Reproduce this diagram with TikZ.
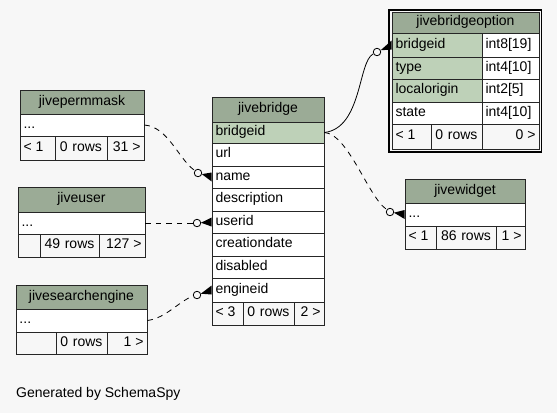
\documentclass[tikz,border=0pt]{standalone}
\usepackage{fontspec}
\setmainfont{Liberation Sans}
\usetikzlibrary{calc}
\definecolor{bgc}{HTML}{F7F7F7}
\definecolor{headc}{HTML}{9BAB96}
\definecolor{pkc}{HTML}{BED1B8}
\newcommand{\cellbox}[8]{%
  \pgfmathsetmacro\cw{#4-#2}%
  \pgfmathsetmacro\ch{#5-#3}%
  \pgfmathsetmacro\tw{#4-#2-7}%
  \node[cellst, fill=#6, minimum width=\cw pt, minimum height=\ch pt, text width=\tw pt, align=#7] (#1) at ({(#2+#4)/2},{(#3+#5)/2}) {#8};%
}
\newcommand{\crowfoot}[2]{%
  \fill[black] ($(#1)!4pt!(#2)$) -- ($(#2)+(0,-4.5)$) -- ($(#2)+(0,4.5)$) -- cycle;%
}
\begin{document}
\begin{tikzpicture}[x=1pt,y=-1pt,
  cellst/.style={draw=black!85, line width=0.8pt, inner xsep=3.5pt, inner ysep=0pt,
    text height=9.5pt, text depth=3.5pt, font=\fontsize{14}{16}\selectfont},
  fkcirc/.style={circle, draw=black, line width=0.8pt, fill=bgc, minimum size=7.5pt, inner sep=0pt},
  conn/.style={line width=0.8pt, black},
  dconn/.style={conn, dash pattern=on 5.5pt off 5pt}]
\fill[bgc] (0,0) rectangle (557,413);
\useasboundingbox (0,0) rectangle (557,413);

% jivepermmask
\cellbox{pm_h}{20}{90}{144}{114}{headc}{center}{jivepermmask}
\cellbox{pm_r}{20}{114}{144}{136}{white}{flush left}{...}
\cellbox{pm_f1}{20}{136}{55}{160}{bgc}{flush left}{< 1}
\cellbox{pm_f2}{55}{136}{107}{160}{bgc}{center}{0 rows}
\cellbox{pm_f3}{107}{136}{144}{160}{bgc}{flush right}{31 >}

% jiveuser
\cellbox{ju_h}{18}{187}{145}{212}{headc}{center}{jiveuser}
\cellbox{ju_r}{18}{212}{145}{234}{white}{flush left}{...}
\cellbox{ju_f1}{18}{234}{40}{257}{bgc}{flush left}{}
\cellbox{ju_f2}{40}{234}{99}{257}{bgc}{center}{49 rows}
\cellbox{ju_f3}{99}{234}{145}{257}{bgc}{flush right}{127 >}

% jivesearchengine
\cellbox{se_h}{16}{285}{147}{309}{headc}{center}{jivesearchengine}
\cellbox{se_r}{16}{309}{147}{332}{white}{flush left}{...}
\cellbox{se_f1}{16}{332}{56}{354}{bgc}{flush left}{}
\cellbox{se_f2}{56}{332}{107}{354}{bgc}{center}{0 rows}
\cellbox{se_f3}{107}{332}{147}{354}{bgc}{flush right}{1 >}

% jivebridge
\cellbox{bj_h}{212}{97}{324}{122}{headc}{center}{jivebridge}
\cellbox{bj_bridgeid}{212}{122}{324}{143}{pkc}{flush left}{bridgeid}
\cellbox{bj_url}{212}{143}{324}{166}{white}{flush left}{url}
\cellbox{bj_name}{212}{166}{324}{188}{white}{flush left}{name}
\cellbox{bj_desc}{212}{188}{324}{211}{white}{flush left}{description}
\cellbox{bj_userid}{212}{211}{324}{233}{white}{flush left}{userid}
\cellbox{bj_cdate}{212}{233}{324}{256}{white}{flush left}{creationdate}
\cellbox{bj_dis}{212}{256}{324}{278}{white}{flush left}{disabled}
\cellbox{bj_engineid}{212}{278}{324}{302}{white}{flush left}{engineid}
\cellbox{bj_f1}{212}{302}{243}{325}{bgc}{flush left}{< 3}
\cellbox{bj_f2}{243}{302}{294}{325}{bgc}{center}{0 rows}
\cellbox{bj_f3}{294}{302}{324}{325}{bgc}{flush right}{2 >}

% jivebridgeoption
\draw[line width=1.2pt, black] (389,10) rectangle (541.5,152);
\cellbox{bo_h}{392}{12}{539}{33}{headc}{center}{jivebridgeoption}
\cellbox{bo_bridgeid}{392}{33}{482}{57}{pkc}{flush left}{bridgeid}
\cellbox{bo_bridgeid_t}{482}{33}{539}{57}{white}{flush left}{int8[19]}
\cellbox{bo_type}{392}{57}{482}{79}{pkc}{flush left}{type}
\cellbox{bo_type_t}{482}{57}{539}{79}{white}{flush left}{int4[10]}
\cellbox{bo_lo}{392}{79}{482}{102}{pkc}{flush left}{localorigin}
\cellbox{bo_lo_t}{482}{79}{539}{102}{white}{flush left}{int2[5]}
\cellbox{bo_state}{392}{102}{482}{124}{white}{flush left}{state}
\cellbox{bo_state_t}{482}{102}{539}{124}{white}{flush left}{int4[10]}
\cellbox{bo_f1}{392}{124}{431}{149}{bgc}{flush left}{< 1}
\cellbox{bo_f2}{431}{124}{482}{149}{bgc}{center}{0 rows}
\cellbox{bo_f3}{482}{124}{539}{149}{bgc}{flush right}{0 >}

% jivewidget
\cellbox{jw_h}{405}{179}{525}{203}{headc}{center}{jivewidget}
\cellbox{jw_r}{405}{203}{525}{226}{white}{flush left}{...}
\cellbox{jw_f1}{405}{226}{436}{249}{bgc}{flush left}{< 1}
\cellbox{jw_f2}{436}{226}{496}{249}{bgc}{center}{86 rows}
\cellbox{jw_f3}{496}{226}{525}{249}{bgc}{flush right}{1 >}

% connectors
\coordinate (bjs) at (bj_bridgeid.east);
\draw[conn] (bjs) .. controls (362,128) and (358,62) .. (373,54);
\draw[dconn] (bjs) .. controls (348,134) and (368,196) .. (386,209);
\draw[dconn] (pm_r.east) .. controls (168,127) and (178,158) .. (194,170);
\draw[dconn] (ju_r.east) -- (193,223);
\draw[dconn] (se_r.east) .. controls (166,318) and (178,302) .. (193,296);

\node[fkcirc] (c1) at (377,52) {};
\node[fkcirc] (c2) at (390,212) {};
\node[fkcirc] (c3) at (198,173) {};
\node[fkcirc] (c4) at (197,223) {};
\node[fkcirc] (c5) at (197,295) {};
\crowfoot{c1}{bo_bridgeid.west}
\crowfoot{c2}{jw_r.west}
\crowfoot{c3}{bj_name.west}
\crowfoot{c4}{bj_userid.west}
\crowfoot{c5}{bj_engineid.west}

\node[anchor=base west, inner sep=0pt, font=\fontsize{14}{16}\selectfont] (gen) at (16,397) {Generated by SchemaSpy};
\end{tikzpicture}
\end{document}
